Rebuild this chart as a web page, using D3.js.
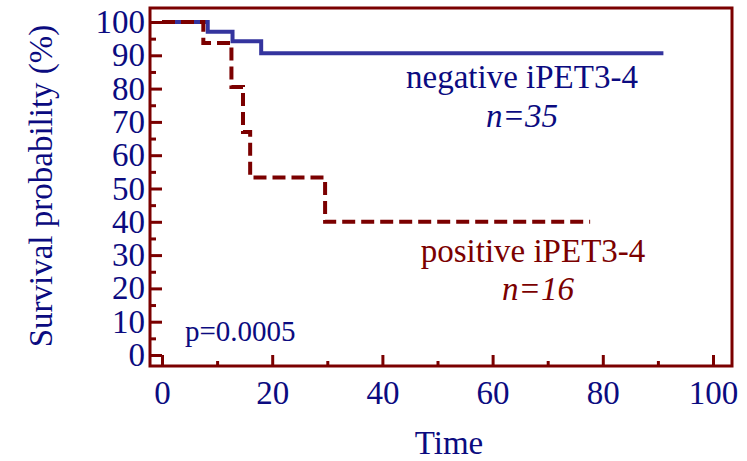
<!DOCTYPE html>
<html>
<head>
<meta charset="utf-8">
<script src="https://cdn.jsdelivr.net/npm/d3@7"></script>
<style>
  body { margin: 0; background: #fff; }
  svg text { font-family: "Liberation Serif", "DejaVu Serif", serif; }
</style>
</head>
<body>
<div id="chart"></div>
<script>
// data
const negTime = [0, 8.3, 12.8, 18, 91];
const negSurv = [100, 97.1, 94.2, 90.6, 90.6];
const posTime = [0, 7.5, 12.6, 14.7, 16, 29.6, 77.7];
const posSurv = [100, 93.7, 80.5, 67, 53.3, 40, 40];
const xTicks = [0, 20, 40, 60, 80, 100];
const xMinor = [10, 30, 50, 70, 90];
const yTicks = [0, 10, 20, 30, 40, 50, 60, 70, 80, 90, 100];
const yMinor = [5, 15, 25, 35, 45, 55, 65, 75, 85, 95];

const w = 747;
const h = 461;
const frame = { left: 150, top: 8, right: 732, bottom: 366 };
const navy = '#0b0b80';
const maroon = '#7b0000';

const svg = d3.select('#chart').append('svg')
  .attr('width', w)
  .attr('height', h);

const x = d3.scaleLinear().domain([0, 100]).range([162, 713]);
const y = d3.scaleLinear().domain([0, 100]).range([355, 22]);

// step curves
const line = d3.line()
  .x(d => x(d[0]))
  .y(d => y(d[1]))
  .curve(d3.curveStepAfter);

svg.append('path')
  .datum(negTime.map((t, i) => [t, negSurv[i]]))
  .attr('d', line)
  .attr('fill', 'none')
  .attr('stroke', '#34349e')
  .attr('stroke-width', 4);

svg.append('path')
  .datum(posTime.map((t, i) => [t, posSurv[i]]))
  .attr('d', line)
  .attr('fill', 'none')
  .attr('stroke', maroon)
  .attr('stroke-width', 4)
  .attr('stroke-dasharray', '13,6');

// axes (ticks pointing inward)
const styleAxis = g => {
  g.select('.domain').remove();
  g.selectAll('line').attr('stroke', maroon).attr('stroke-width', 3);
  g.selectAll('text')
    .attr('fill', navy)
    .style('font-size', '33px');
};

svg.append('g')
  .attr('transform', 'translate(' + frame.left + ',0)')
  .call(d3.axisLeft(y).tickValues(yTicks).tickSize(-12).tickPadding(5))
  .call(styleAxis);
svg.append('g')
  .attr('transform', 'translate(' + frame.left + ',0)')
  .call(d3.axisLeft(y).tickValues(yMinor).tickSize(-6).tickFormat(''))
  .call(styleAxis);

svg.append('g')
  .attr('transform', 'translate(0,' + frame.bottom + ')')
  .call(d3.axisBottom(x).tickValues(xTicks).tickSize(-11).tickPadding(15))
  .call(styleAxis);
svg.append('g')
  .attr('transform', 'translate(0,' + frame.bottom + ')')
  .call(d3.axisBottom(x).tickValues(xMinor).tickSize(-5).tickFormat(''))
  .call(styleAxis);

// frame
svg.append('rect')
  .attr('x', frame.left)
  .attr('y', frame.top)
  .attr('width', frame.right - frame.left)
  .attr('height', frame.bottom - frame.top)
  .attr('fill', 'none')
  .attr('stroke', maroon)
  .attr('stroke-width', 3);

// labels
svg.append('text')
  .attr('transform', 'translate(52,' + 186 + ') rotate(-90)')
  .attr('text-anchor', 'middle')
  .attr('fill', navy)
  .style('font-size', '33px')
  .text('Survival probability (%)');

svg.append('text')
  .attr('x', 449).attr('y', 454)
  .attr('text-anchor', 'middle')
  .attr('fill', navy)
  .style('font-size', '33px')
  .text('Time');

svg.append('text')
  .attr('x', 522).attr('y', 88)
  .attr('text-anchor', 'middle')
  .attr('fill', navy)
  .style('font-size', '33px')
  .text('negative iPET3-4');
svg.append('text')
  .attr('x', 522).attr('y', 127)
  .attr('text-anchor', 'middle')
  .attr('fill', navy)
  .style('font-size', '33px')
  .style('font-style', 'italic')
  .text('n=35');

svg.append('text')
  .attr('x', 533).attr('y', 262)
  .attr('text-anchor', 'middle')
  .attr('fill', maroon)
  .style('font-size', '33px')
  .text('positive iPET3-4');
svg.append('text')
  .attr('x', 538).attr('y', 300)
  .attr('text-anchor', 'middle')
  .attr('fill', maroon)
  .style('font-size', '33px')
  .style('font-style', 'italic')
  .text('n=16');

svg.append('text')
  .attr('x', 185).attr('y', 341)
  .attr('fill', navy)
  .style('font-size', '29px')
  .text('p=0.0005');
</script>
</body>
</html>
